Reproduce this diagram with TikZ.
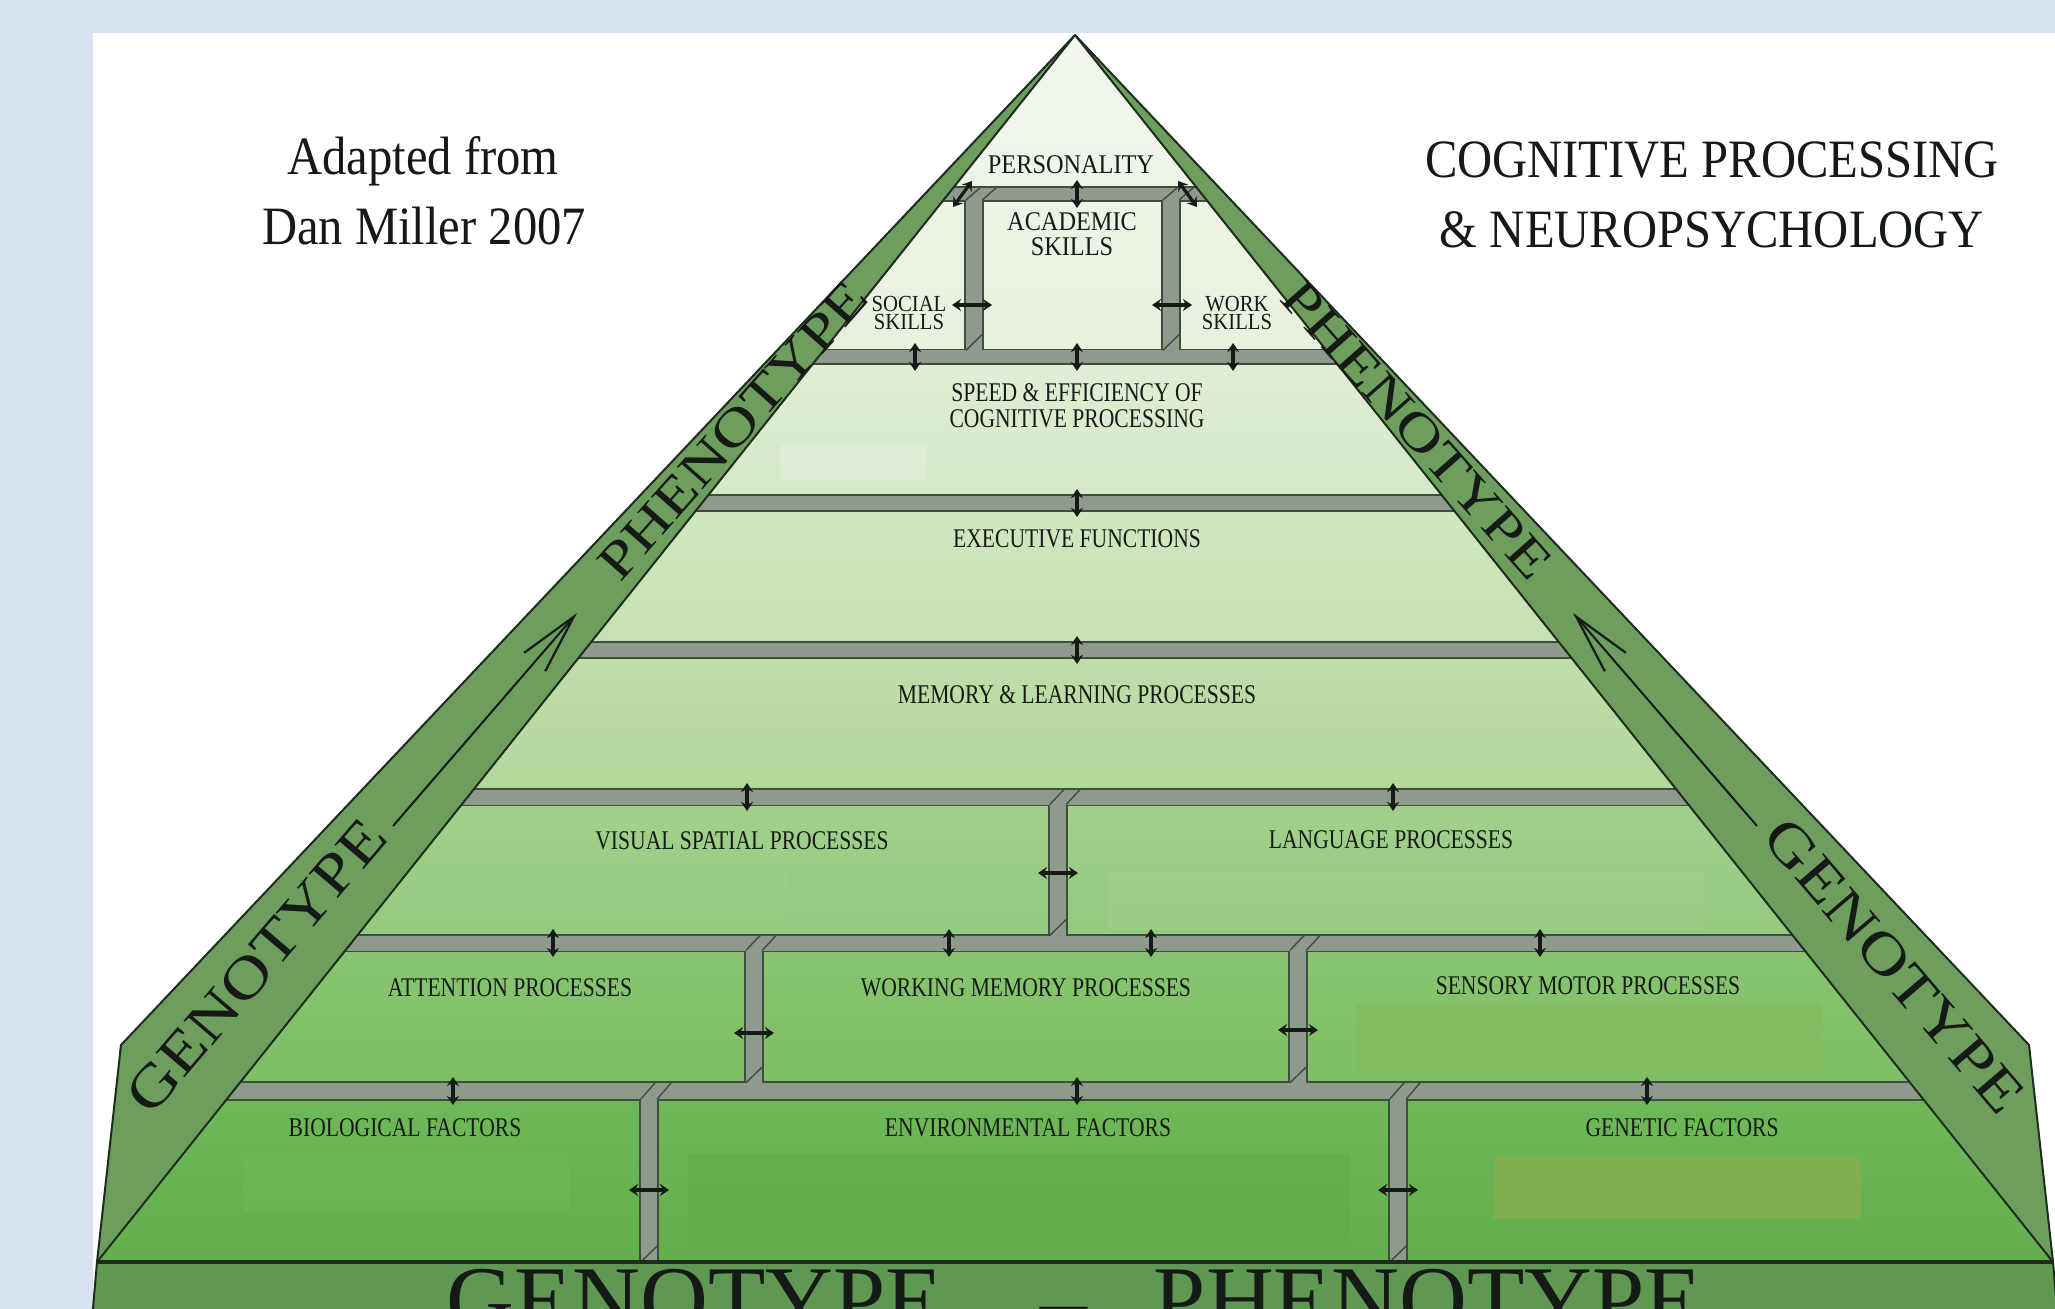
\documentclass[tikz,border=0pt]{standalone}
\usepackage{fontspec}
\setmainfont{Liberation Serif}
\usetikzlibrary{arrows.meta}
\definecolor{bgblue}{HTML}{DAE3F3}
\definecolor{bandgreen}{HTML}{6E9E5E}
\definecolor{basegreen}{HTML}{5E9852}
\definecolor{barfill}{HTML}{8E9A8C}
\definecolor{barline}{HTML}{3E4E3C}
\definecolor{ink}{HTML}{161A16}
\definecolor{edge}{HTML}{1E2C1E}
\definecolor{l0t}{HTML}{F3F7EE}\definecolor{l0b}{HTML}{E7F0DD}
\definecolor{l1t}{HTML}{E1EED6}\definecolor{l1b}{HTML}{D4E8C6}
\definecolor{l2t}{HTML}{D2E7C1}\definecolor{l2b}{HTML}{C5E0B2}
\definecolor{l3t}{HTML}{C1DEAB}\definecolor{l3b}{HTML}{B1D699}
\definecolor{l4t}{HTML}{A3D18D}\definecolor{l4b}{HTML}{92C97D}
\definecolor{l5t}{HTML}{89C571}\definecolor{l5b}{HTML}{7DBE65}
\definecolor{l6t}{HTML}{6FB958}\definecolor{l6b}{HTML}{63AF4C}
\definecolor{p1}{HTML}{E2EFD9}
\definecolor{p2}{HTML}{A9D38E}
\definecolor{p3}{HTML}{93CB80}
\definecolor{p4}{HTML}{82BD5F}
\definecolor{p5}{HTML}{84AF50}
\definecolor{p6}{HTML}{5FAD49}
\definecolor{p7}{HTML}{6DB859}
\newcommand\lbl[1]{\scalebox{0.8}[1]{#1}}
\newcommand\tlbl[1]{\scalebox{0.9}[1]{#1}}
\newcommand\wide[1]{\scalebox{1.25}[1]{#1}}
\newcommand\varr[3]{\coordinate (#1a) at (#2,#3-14); \coordinate (#1b) at (#2,#3+14); \draw[dbl] (#1a) -- (#1b);}
\newcommand\harr[3]{\coordinate (#1a) at (#2-20,#3); \coordinate (#1b) at (#2+20,#3); \draw[dbl] (#1a) -- (#1b);}
\tikzset{
  lab/.style={font=\fontsize{13.5}{14}\selectfont, inner sep=0pt, text=ink, align=center},
  toplab/.style={font=\fontsize{13.5}{12.5}\selectfont, inner sep=0pt, text=ink, align=center},
  title/.style={font=\fontsize{27}{30}\selectfont, inner sep=0pt, text=ink, anchor=base},
  bandtext/.style={font=\fontsize{26}{28}\selectfont, inner sep=0pt, text=ink},
  basetext/.style={font=\fontsize{47}{50}\selectfont, inner sep=0pt, text=ink, anchor=base},
  dbl/.style={{Stealth[length=4.5pt,width=6pt]}-{Stealth[length=4.5pt,width=6pt]}, line width=1.6pt, draw=ink},
  bandarrow/.style={-{Straight Barb[length=30pt,width=14pt,line width=1.1pt]}, line width=1pt, draw=ink},
  outline/.style={draw=edge, line width=1pt, line join=round},
  chamfer/.style={draw=barline, line width=0.7pt},
}
\begin{document}
\begin{tikzpicture}[x=0.5pt,y=-0.5pt]
\useasboundingbox (0,0) rectangle (2055,1309);
\clip (0,0) rectangle (2055,1309);
\fill[bgblue] (0,0) rectangle (2055,1309);
\fill[white] (93,33) rectangle (2055,1309);

% key points
\coordinate (apex) at (1075,35);
\coordinate (bl) at (97,1262);
\coordinate (br) at (2053,1262);
\coordinate (ol) at (121,1045);
\coordinate (or) at (2029,1045);
\coordinate (bbl) at (92,1320);
\coordinate (bbr) at (2058,1320);

% bottom band
\fill[basegreen] (bl) -- (br) -- (bbr) -- (bbl) -- cycle;
% side bands
\fill[bandgreen] (apex) -- (ol) -- (bl) -- cycle;
\fill[bandgreen] (apex) -- (or) -- (br) -- cycle;

% pyramid face
\begin{scope}
\clip (apex) -- (bl) -- (br) -- cycle;
\shade[top color=l0t, bottom color=l0b] (0,30) rectangle (2055,357);
\shade[top color=l1t, bottom color=l1b] (0,357) rectangle (2055,503);
\shade[top color=l2t, bottom color=l2b] (0,503) rectangle (2055,650);
\shade[top color=l3t, bottom color=l3b] (0,650) rectangle (2055,797);
\shade[top color=l4t, bottom color=l4b] (0,797) rectangle (2055,943);
\shade[top color=l5t, bottom color=l5b] (0,943) rectangle (2055,1091);
\shade[top color=l6t, bottom color=l6b] (0,1091) rectangle (2055,1262);
% subtle patches
\fill[p1, opacity=0.6] (780,445) rectangle (927,480);
\fill[p2, opacity=0.35] (1108,872) rectangle (1704,930);
\fill[p3, opacity=0.5] (786,872) rectangle (1048,933);
\fill[p4, opacity=0.6] (1356,1003) rectangle (1822,1075);
\fill[p5, opacity=0.9] (1494,1156) rectangle (1861,1219);
\fill[p6, opacity=0.5] (688,1153) rectangle (1350,1258);
\fill[p7, opacity=0.6] (243,1153) rectangle (570,1212);
% bars: outline pass
\foreach \y/\h in {194/6,357/6.5,503/7,650/7,797/7.5,943/7.5,1091/8}
  \fill[barline] (0,\y-\h-1.8) rectangle (2055,\y+\h+1.8);
\foreach \x/\a/\b in {974/194/357,1171/194/357,1058/797/943,754/943/1091,1298/943/1091,649/1091/1262,1398/1091/1262}
  \fill[barline] (\x-10,\a) rectangle (\x+10,\b);
% bars: fill pass
\foreach \y/\h in {194/6,357/6.5,503/7,650/7,797/7.5,943/7.5,1091/8}
  \fill[barfill] (0,\y-\h) rectangle (2055,\y+\h);
\foreach \x/\a/\b in {974/194/357,1171/194/357,1058/797/943,754/943/1091,1298/943/1091,649/1091/1262,1398/1091/1262}
  \fill[barfill] (\x-8.2,\a) rectangle (\x+8.2,\b);
% bevel marks at the joints
\foreach \x/\a/\ha/\b/\hb in {974/194/6/357/6.5,1171/194/6/357/6.5,1058/797/7.5/943/7.5,754/943/7.5/1091/8,1298/943/7.5/1091/8,649/1091/8/1262/0,1398/1091/8/1262/0}{
  \draw[chamfer] (\x-8.2,\a+\ha) -- (\x+6,\a-\ha);
  \draw[chamfer] (\x+8.2,\a+\ha) -- (\x+22,\a-\ha);
  \draw[chamfer] (\x-8.2,\b-\hb) -- (\x+8.2,\b-\hb-16);
}
\end{scope}

% outlines
\draw[outline] (apex) -- (ol) -- (bl) -- (br) -- (or) -- cycle;
\draw[outline] (apex) -- (bl);
\draw[outline] (apex) -- (br);
\draw[outline] (bl) -- (bbl);
\draw[outline] (br) -- (bbr);
\draw[draw=edge, line width=1.6pt] (bl) -- (br);

% band texts and arrows
\node[bandtext, font=\fontsize{29}{30}\selectfont, rotate=49.5] (gl) at (256,966) {\scalebox{1.2}[1]{GENOTYPE}};
\node[bandtext, rotate=48.5] (pl) at (733,430) {\wide{PHENOTYPE}};
\node[bandtext, rotate=-48.5] (pr) at (1417,430) {\wide{PHENOTYPE}};
\node[bandtext, font=\fontsize{29}{30}\selectfont, rotate=-49.5] (gr) at (1894,966) {\scalebox{1.2}[1]{GENOTYPE}};
\coordinate (lat) at (393,826);
\coordinate (lah) at (577,613);
\coordinate (rat) at (1757,826);
\coordinate (rah) at (1573,613);
\draw[bandarrow] (lat) -- (lah);
\draw[bandarrow] (rat) -- (rah);

% bottom text
\node[basetext] (bg) at (695,1331) {GENOTYPE};
\node[basetext] (bd) at (1064,1331) {–};
\node[basetext] (bp) at (1428,1331) {PHENOTYPE};

% titles
\node[title] (t1) at (423,175) {\tlbl{Adapted from}};
\node[title] (t2) at (424,245) {\tlbl{Dan Miller 2007}};
\node[title] (t3) at (1712,178) {\tlbl{COGNITIVE PROCESSING}};
\node[title] (t4) at (1712,248) {\tlbl{\& NEUROPSYCHOLOGY}};

% labels
\node[toplab] (pers) at (1071,165) {\tlbl{PERSONALITY}};
\node[toplab, font=\fontsize{13.5}{12.5}\selectfont] (acad) at (1072,234) {\tlbl{ACADEMIC}\\\tlbl{SKILLS}};
\node[toplab, font=\fontsize{11.5}{9}\selectfont] (soc) at (909,313) {\tlbl{SOCIAL}\\\tlbl{SKILLS}};
\node[toplab, font=\fontsize{11.5}{9}\selectfont] (work) at (1237,313) {\tlbl{WORK}\\\tlbl{SKILLS}};
\node[lab, font=\fontsize{13.5}{13}\selectfont] (speed) at (1077,406) {\lbl{SPEED \& EFFICIENCY OF}\\\lbl{COGNITIVE PROCESSING}};
\node[lab] (exec) at (1077,539) {\lbl{EXECUTIVE FUNCTIONS}};
\node[lab] (mem) at (1077,695) {\lbl{MEMORY \& LEARNING PROCESSES}};
\node[lab] (vis) at (742,841) {\lbl{VISUAL SPATIAL PROCESSES}};
\node[lab] (lang) at (1391,840) {\lbl{LANGUAGE PROCESSES}};
\node[lab] (att) at (510,988) {\lbl{ATTENTION PROCESSES}};
\node[lab] (wm) at (1026,988) {\lbl{WORKING MEMORY PROCESSES}};
\node[lab] (sm) at (1588,986) {\lbl{SENSORY MOTOR PROCESSES}};
\node[lab] (bio) at (405,1128) {\lbl{BIOLOGICAL FACTORS}};
\node[lab] (env) at (1028,1128) {\lbl{ENVIRONMENTAL FACTORS}};
\node[lab] (gen) at (1682,1128) {\lbl{GENETIC FACTORS}};

% double arrows
\varr{a1}{1077}{194}
\coordinate (d1a) at (972,181); \coordinate (d1b) at (953,207); \draw[dbl] (d1a) -- (d1b);
\coordinate (d2a) at (1178,181); \coordinate (d2b) at (1197,207); \draw[dbl] (d2a) -- (d2b);
\harr{h1}{972}{305}
\harr{h2}{1172}{305}
\varr{b1}{915}{357}
\varr{b2}{1077}{357}
\varr{b3}{1233}{357}
\varr{c1}{1077}{503}
\varr{dd1}{1077}{650}
\varr{e1}{747}{797}
\varr{e2}{1393}{797}
\harr{h3}{1058}{873}
\varr{f1}{553}{943}
\varr{f2}{949}{943}
\varr{f3}{1151}{943}
\varr{f4}{1540}{943}
\harr{h4}{754}{1033}
\harr{h5}{1298}{1030}
\varr{g1}{453}{1091}
\varr{g2}{1077}{1091}
\varr{g3}{1647}{1091}
\harr{h6}{649}{1190}
\harr{h7}{1398}{1190}
\end{tikzpicture}
\end{document}
